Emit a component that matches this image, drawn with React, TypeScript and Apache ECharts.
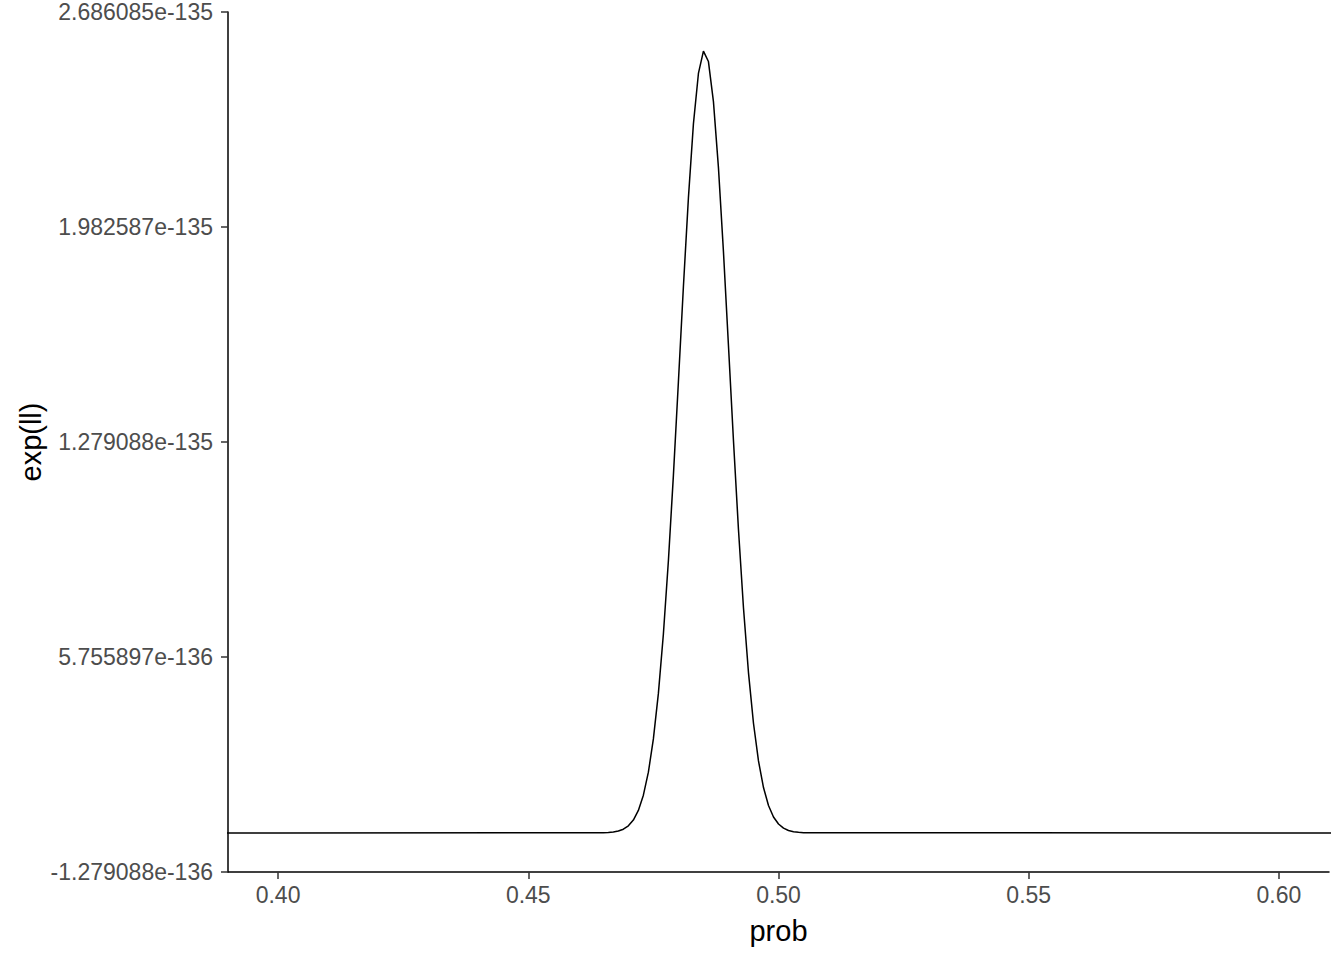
import React, { useEffect, useRef } from "react";
import * as echarts from "echarts";

// x values (probability) and likelihood values in units of 1e-136
const prob = [
  0.0, 0.4, 0.465, 0.466, 0.467, 0.468, 0.469, 0.47, 0.471, 0.472, 0.473, 0.474,
  0.475, 0.476, 0.477, 0.478, 0.479, 0.48, 0.481, 0.482, 0.483, 0.484, 0.485,
  0.486, 0.487, 0.488, 0.489, 0.49, 0.491, 0.492, 0.493, 0.494, 0.495, 0.496,
  0.497, 0.498, 0.499, 0.5, 0.501, 0.502, 0.503, 0.504, 0.505, 0.506, 0.6, 1.0,
];
const likelihoodE136 = [
  0, 0, 0.006, 0.014, 0.03, 0.062, 0.122, 0.231, 0.42, 0.735, 1.234, 1.988,
  3.075, 4.564, 6.508, 8.907, 11.7, 14.76, 17.88, 20.78, 23.2, 24.85, 25.58,
  25.24, 23.93, 21.77, 19.02, 15.95, 12.84, 9.928, 7.367, 5.247, 3.589, 2.355,
  1.485, 0.898, 0.522, 0.291, 0.156, 0.08, 0.04, 0.019, 0.009, 0.004, 0, 0,
];
const UNIT = 1e-136;
const xTicks = [0.4, 0.45, 0.5, 0.55, 0.6];
const xRange = [0.39, 0.61];
const yTicksE136 = [-1.279088, 5.755897, 12.79088, 19.82587, 26.86085];
const xTitle = "prob";
const yTitle = "exp(ll)";

const FONT = "Arial, 'Liberation Sans', sans-serif";

export default function App() {
  const ref = useRef<HTMLDivElement>(null);
  useEffect(() => {
    document.body.style.margin = "0";
    if (!ref.current) return;
    const chart = echarts.init(ref.current, undefined, { renderer: "svg" });
    const left = 228;
    const right = 15;
    const top = 12;
    const bottom = 88;
    chart.setOption({
      animation: false,
      backgroundColor: "#ffffff",
      grid: { left, right, top, bottom, containLabel: false },
      xAxis: {
        type: "value",
        min: xRange[0],
        max: xRange[1],
        splitLine: { show: false },
        axisLine: { show: true, onZero: false, lineStyle: { color: "#000", width: 1.5 } },
        axisTick: {
          show: true,
          length: 7,
          customValues: xTicks,
          lineStyle: { color: "#333333", width: 1.5 },
        },
        axisLabel: {
          customValues: xTicks,
          formatter: (v: number) => v.toFixed(2),
          color: "#4d4d4d",
          fontSize: 23,
          fontFamily: FONT,
          margin: 11,
        },
      },
      yAxis: {
        type: "value",
        min: yTicksE136[0],
        max: yTicksE136[yTicksE136.length - 1],
        splitLine: { show: false },
        axisLine: { show: true, onZero: false, lineStyle: { color: "#000", width: 1.5 } },
        axisTick: {
          show: true,
          length: 7,
          customValues: yTicksE136,
          lineStyle: { color: "#333333", width: 1.5 },
        },
        axisLabel: {
          customValues: yTicksE136,
          formatter: (v: number) => (v * UNIT).toExponential(6),
          color: "#4d4d4d",
          fontSize: 23,
          fontFamily: FONT,
          margin: 15,
        },
      },
      series: [
        {
          type: "line",
          data: prob.map((p, i) => [p, likelihoodE136[i]]),
          showSymbol: false,
          symbol: "none",
          lineStyle: { color: "#000000", width: 1.5 },
          clip: true,
        },
      ],
      graphic: [
        {
          type: "text",
          x: left + (1344 - left - right) / 2,
          y: 931,
          style: {
            text: xTitle,
            fill: "#000",
            font: `29px ${FONT}`,
            align: "center",
            verticalAlign: "middle",
          },
        },
        {
          type: "text",
          x: 31,
          y: top + (960 - top - bottom) / 2,
          rotation: Math.PI / 2,
          style: {
            text: yTitle,
            fill: "#000",
            font: `29px ${FONT}`,
            align: "center",
            verticalAlign: "middle",
          },
        },
      ],
    });
    return () => chart.dispose();
  }, []);
  return <div ref={ref} style={{ width: 1344, height: 960 }} />;
}
